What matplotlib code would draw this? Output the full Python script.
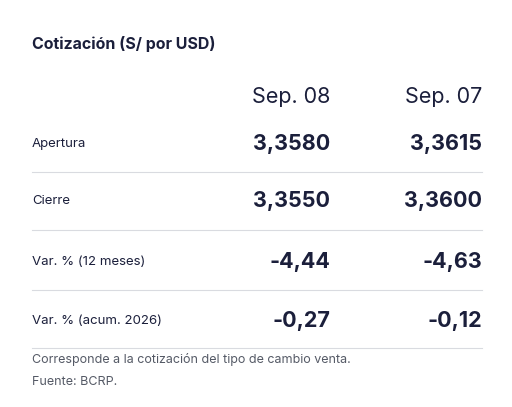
import matplotlib.pyplot as plt

W, H = 512, 407

title = "Cotización (S/ por USD)"
dates = ["Sep. 08", "Sep. 07"]
row_labels = ["Apertura", "Cierre", "Var. % (12 meses)", "Var. % (acum. 2026)"]
col_08 = ["3,3580", "3,3550", "-4,44", "-0,27"]
col_07 = ["3,3615", "3,3600", "-4,63", "-0,12"]
notes = ["Corresponde a la cotización del tipo de cambio venta.", "Fuente: BCRP."]

navy = "#1b1f3b"
grey = "#555a66"
plt.rcParams["font.family"] = ["Inter", "DejaVu Sans"]

fig = plt.figure(figsize=(W / 100, H / 100), dpi=100)
fig.patch.set_facecolor("white")


def px(x, y):
    return x / W, 1 - y / H


def txt(x, y, s, **kw):
    fig.text(*px(x, y), s, va="center", color=kw.pop("color", navy), **kw)


txt(32, 44, title, fontsize=11.5, fontweight="bold")
col_x = [330, 482]
for cx, d in zip(col_x, dates):
    txt(cx, 97, d, fontsize=15.5, ha="right")

row_y = [144, 201, 262, 321]
line_y = [172, 230, 290, 348]
for y, lab, a, b in zip(row_y, row_labels, col_08, col_07):
    txt(32, y, lab, fontsize=9.5)
    txt(col_x[0], y, a, fontsize=15.5, ha="right", fontweight="bold")
    txt(col_x[1], y, b, fontsize=15.5, ha="right", fontweight="bold")

for y in line_y:
    x0, yy = px(32, y)
    x1, _ = px(482, y)
    fig.add_artist(plt.Line2D([x0, x1], [yy, yy], color="#d9dbe0", lw=0.8))

txt(32, 359, notes[0], fontsize=9, color=grey)
txt(32, 382, notes[1], fontsize=9, color=grey)

fig.savefig("out.png", dpi=100, facecolor="white")
